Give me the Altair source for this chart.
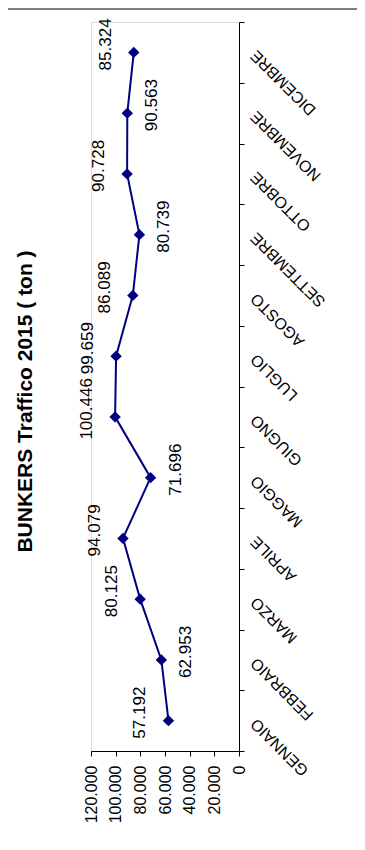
import altair as alt
import pandas as pd

months = ["GENNAIO", "FEBBRAIO", "MARZO", "APRILE", "MAGGIO", "GIUGNO",
          "LUGLIO", "AGOSTO", "SETTEMBRE", "OTTOBRE", "NOVEMBRE", "DICEMBRE"]
values = [57192, 62953, 80125, 94079, 71696, 100446, 99659, 86089, 80739, 90728, 90563, 85324]
label_side = ["above", "below", "above", "above", "below", "above",
              "above", "above", "below", "above", "below", "above"]
value_ticks = [0, 20000, 40000, 60000, 80000, 100000, 120000]

df = pd.DataFrame({"month": months, "value": values, "side": label_side})

FONT = "Liberation Sans"
NAVY = "#000080"

x_enc = alt.X(
    "value:Q",
    scale=alt.Scale(domain=[0, 120000], reverse=True, nice=False, zero=True),
    axis=alt.Axis(
        orient="bottom", values=value_ticks, title=None, grid=False,
        labelAngle=270, labelAlign="right", labelBaseline="middle",
        labelExpr="replace(format(datum.value, ','), ',', '.')",
        labelFont=FONT, labelFontSize=16, labelColor="#000",
        labelPadding=9, labelOverlap=False, labelFlush=False, labelBound=False,
        domainColor="#000", tickColor="#000", tickSize=5,
    ),
)
y_enc = alt.Y(
    "month:N",
    sort=months[::-1],
    scale=alt.Scale(type="band", paddingInner=0, paddingOuter=0),
    axis=alt.Axis(
        orient="right", title=None, grid=False, tickBand="extent",
        labelAngle=225, labelAlign="right", labelBaseline="middle",
        labelFont=FONT, labelFontSize=16, labelColor="#000",
        labelPadding=9, labelOverlap=False, labelLimit=300,
        domainColor="#000", tickColor="#000", tickSize=5,
    ),
)

base = alt.Chart(df)

line = base.mark_line(color=NAVY, strokeWidth=2).encode(x=x_enc, y=y_enc)
points = base.mark_point(shape="diamond", filled=True, color=NAVY, size=130, opacity=1).encode(
    x=x_enc, y=y_enc)

lab = base.transform_calculate(
    label="replace(format(datum.value, ','), ',', '.')"
)
labels_above = lab.transform_filter("datum.side == 'above'").mark_text(
    angle=270, align="center", baseline="middle", font=FONT, fontSize=17,
    color="#000", xOffset=-28, yOffset=-8
).encode(x=x_enc, y=y_enc, text="label:N")
labels_below = lab.transform_filter("datum.side == 'below'").mark_text(
    angle=270, align="center", baseline="middle", font=FONT, fontSize=17,
    color="#000", xOffset=25, yOffset=-8
).encode(x=x_enc, y=y_enc, text="label:N")

top_rule = alt.Chart(pd.DataFrame({"a": [0]})).mark_rule(color="#808080", strokeWidth=2).encode(
    x=alt.value(-83), x2=alt.value(266), y=alt.value(-13))

chart = alt.layer(line, points, labels_above, labels_below, top_rule).properties(
    width=148, height=729,
    title=alt.TitleParams(
        "BUNKERS Traffico 2015 ( ton )", orient="left", anchor="middle",
        font=FONT, fontSize=21, fontWeight="bold", color="#000", offset=-29,
        dx=-15,
    ),
    autosize=alt.AutoSizeParams(type="none"),
    padding={"left": 83, "top": 14, "right": 118, "bottom": 91},
).configure_view(strokeWidth=0).configure_axis(labelOverlap=False).configure(background="white")

chart.save("out.html", embed_options={"renderer": "svg", "actions": False})
